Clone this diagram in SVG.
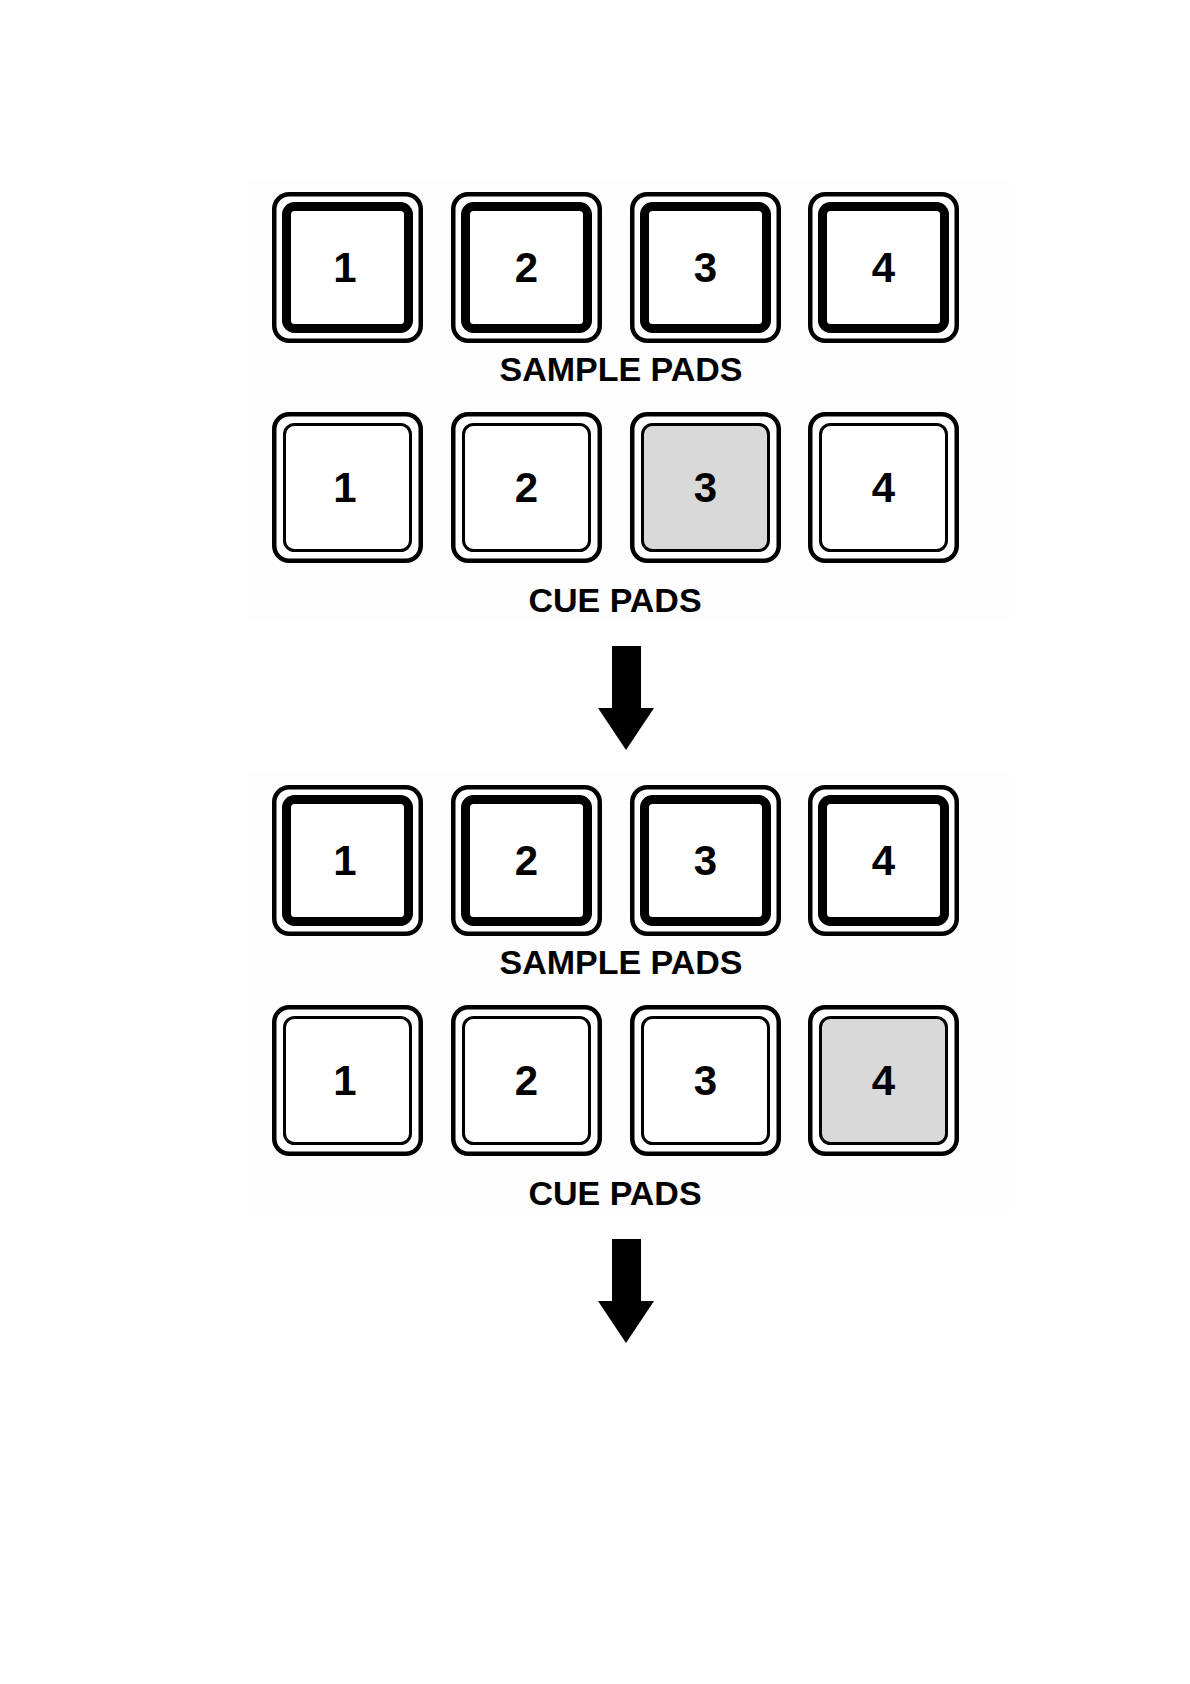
<svg xmlns="http://www.w3.org/2000/svg" width="1190" height="1684" viewBox="0 0 1190 1684">
<style>
.bg{fill:#ffffff}
.panel{fill:#fdfdfd}
.outer{fill:#ffffff;stroke:#000;stroke-width:4.5}
.sin{fill:#ffffff;stroke:#000;stroke-width:9}
.cin{fill:#ffffff;stroke:#000;stroke-width:3}
.cin.on{fill:#d9d9d9}
.num{font-family:"Liberation Sans",Arial,sans-serif;font-weight:bold;font-size:42px;text-anchor:middle;fill:#000}
.lbl{font-family:"Liberation Sans",Arial,sans-serif;font-weight:bold;font-size:34px;text-anchor:middle;fill:#000}
.arrow{fill:#000}
</style>
<defs>
<g id="samplePad">
<rect class="outer" x="2.25" y="2.25" width="146.5" height="146.5" rx="15"/>
<rect class="sin" x="14.5" y="14.5" width="122" height="122" rx="8"/>
</g>
<g id="cuePad">
<rect class="outer" x="2.25" y="2.25" width="146.5" height="146.5" rx="15"/>
<rect class="cin" x="12.5" y="12.5" width="126" height="126" rx="10"/>
</g>
<g id="cuePadOn">
<rect class="outer" x="2.25" y="2.25" width="146.5" height="146.5" rx="15"/>
<rect class="cin on" x="12.5" y="12.5" width="126" height="126" rx="10"/>
</g>
</defs>
<rect class="bg" x="0" y="0" width="1190" height="1684"/>
<rect class="panel" x="249" y="178" width="760" height="444"/>
<rect class="panel" x="249" y="771" width="760" height="444"/>

<g id="block1">
<g id="s1-sample-1" transform="translate(272,192)"><use href="#samplePad"/><text class="num" x="73" y="90">1</text></g>
<g id="s1-sample-2" transform="translate(451,192)"><use href="#samplePad"/><text class="num" x="75.5" y="90">2</text></g>
<g id="s1-sample-3" transform="translate(630,192)"><use href="#samplePad"/><text class="num" x="75.5" y="90">3</text></g>
<g id="s1-sample-4" transform="translate(808,192)"><use href="#samplePad"/><text class="num" x="75.5" y="90">4</text></g>
<text id="s1-sample-label" class="lbl" x="621" y="381">SAMPLE PADS</text>
<g id="s1-cue-1" transform="translate(272,412)"><use href="#cuePad"/><text class="num" x="73" y="90">1</text></g>
<g id="s1-cue-2" transform="translate(451,412)"><use href="#cuePad"/><text class="num" x="75.5" y="90">2</text></g>
<g id="s1-cue-3" transform="translate(630,412)"><use href="#cuePadOn"/><text class="num" x="75.5" y="90">3</text></g>
<g id="s1-cue-4" transform="translate(808,412)"><use href="#cuePad"/><text class="num" x="75.5" y="90">4</text></g>
<text id="s1-cue-label" class="lbl" x="615" y="612">CUE PADS</text>
</g>

<g id="block2">
<g id="s2-sample-1" transform="translate(272,785)"><use href="#samplePad"/><text class="num" x="73" y="90">1</text></g>
<g id="s2-sample-2" transform="translate(451,785)"><use href="#samplePad"/><text class="num" x="75.5" y="90">2</text></g>
<g id="s2-sample-3" transform="translate(630,785)"><use href="#samplePad"/><text class="num" x="75.5" y="90">3</text></g>
<g id="s2-sample-4" transform="translate(808,785)"><use href="#samplePad"/><text class="num" x="75.5" y="90">4</text></g>
<text id="s2-sample-label" class="lbl" x="621" y="974">SAMPLE PADS</text>
<g id="s2-cue-1" transform="translate(272,1005)"><use href="#cuePad"/><text class="num" x="73" y="90">1</text></g>
<g id="s2-cue-2" transform="translate(451,1005)"><use href="#cuePad"/><text class="num" x="75.5" y="90">2</text></g>
<g id="s2-cue-3" transform="translate(630,1005)"><use href="#cuePad"/><text class="num" x="75.5" y="90">3</text></g>
<g id="s2-cue-4" transform="translate(808,1005)"><use href="#cuePadOn"/><text class="num" x="75.5" y="90">4</text></g>
<text id="s2-cue-label" class="lbl" x="615" y="1205">CUE PADS</text>
</g>

<g id="connectors">
<polygon class="arrow" points="612,646 641,646 641,708 654,708 626,750 598,708 612,708"/>
<polygon class="arrow" points="612,1239 641,1239 641,1301 654,1301 626,1343 598,1301 612,1301"/>
</g>
</svg>
